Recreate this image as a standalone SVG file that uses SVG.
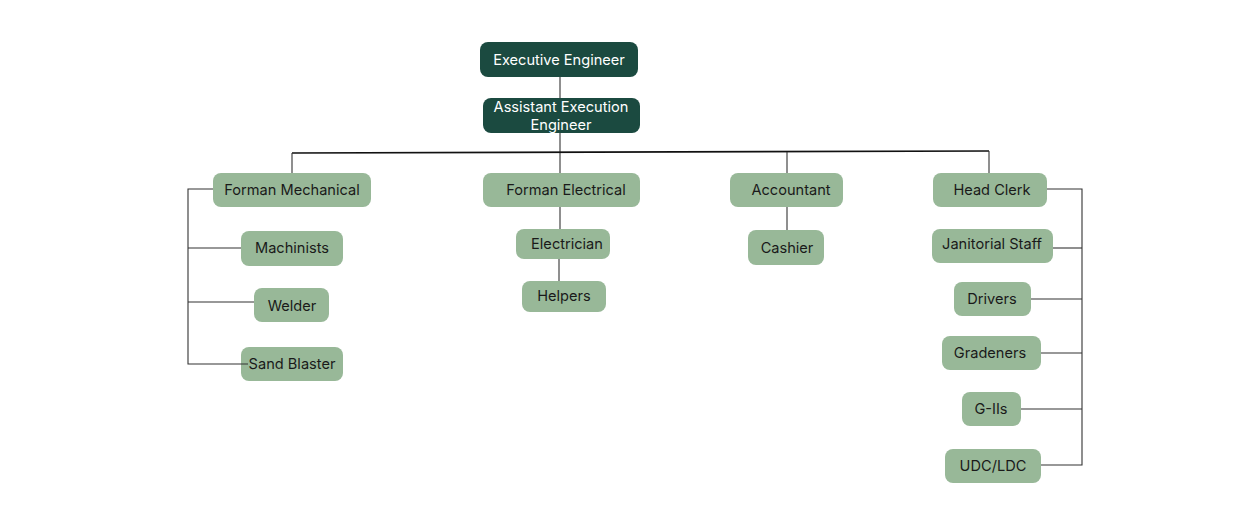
<svg xmlns="http://www.w3.org/2000/svg" width="1258" height="529" viewBox="0 0 1258 529">
<style>
.dark rect{fill:#1b4a40}
.light rect{fill:#98b898}
text{font-family:Inter,"Noto Sans","Liberation Sans",sans-serif;font-size:14.6px;text-anchor:middle;dominant-baseline:central}
.dark text{fill:#ffffff}
.light text{fill:#1a1a1a}
.c line,.c polyline{stroke:#333;stroke-width:1.1;fill:none}
.c .main{stroke:#111;stroke-width:1.6}
</style>
<rect width="1258" height="529" fill="#ffffff"/>
<g id="exec" class="dark"><rect x="480" y="42" width="158" height="35" rx="8"/><text x="559" y="60">Executive Engineer</text></g>
<g id="asst" class="dark"><rect x="483" y="98" width="157" height="35" rx="8"/><text x="561" y="107">Assistant Execution</text><text x="561" y="125">Engineer</text></g>
<g id="forman-mech" class="light"><rect x="213" y="173" width="158" height="34" rx="8"/><text x="292" y="190">Forman Mechanical</text></g>
<g id="forman-elec" class="light"><rect x="483" y="173" width="157" height="34" rx="8"/><text x="566" y="190">Forman Electrical</text></g>
<g id="accountant" class="light"><rect x="730" y="173" width="113" height="34" rx="8"/><text x="791" y="190">Accountant</text></g>
<g id="head-clerk" class="light"><rect x="933" y="173" width="114" height="34" rx="8"/><text x="992" y="190">Head Clerk</text></g>
<g id="machinists" class="light"><rect x="241" y="231" width="102" height="35" rx="8"/><text x="292" y="248">Machinists</text></g>
<g id="welder" class="light"><rect x="254" y="288" width="75" height="34" rx="8"/><text x="292" y="306">Welder</text></g>
<g id="sand-blaster" class="light"><rect x="241" y="347" width="102" height="34" rx="8"/><text x="292" y="364">Sand Blaster</text></g>
<g id="electrician" class="light"><rect x="516" y="229" width="94" height="30" rx="8"/><text x="567" y="244">Electrician</text></g>
<g id="helpers" class="light"><rect x="522" y="281" width="84" height="31" rx="8"/><text x="564" y="296">Helpers</text></g>
<g id="cashier" class="light"><rect x="748" y="230" width="76" height="35" rx="8"/><text x="787" y="248">Cashier</text></g>
<g id="janitorial" class="light"><rect x="932" y="229" width="121" height="34" rx="8"/><text x="992" y="244">Janitorial Staff</text></g>
<g id="drivers" class="light"><rect x="954" y="282" width="77" height="34" rx="8"/><text x="992" y="299">Drivers</text></g>
<g id="gradeners" class="light"><rect x="942" y="336" width="99" height="34" rx="8"/><text x="990" y="353">Gradeners</text></g>
<g id="g-iis" class="light"><rect x="962" y="392" width="59" height="34" rx="8"/><text x="991" y="409">G-IIs</text></g>
<g id="udc-ldc" class="light"><rect x="945" y="449" width="96" height="34" rx="8"/><text x="993" y="466">UDC/LDC</text></g>
<g class="c" id="connectors">
<line x1="560" y1="77" x2="560" y2="98"/>
<line x1="560" y1="133" x2="560" y2="173"/>
<line class="main" x1="292" y1="153" x2="989" y2="151"/>
<line x1="292" y1="153" x2="292" y2="173"/>
<line x1="787" y1="152" x2="787" y2="173"/>
<line x1="989" y1="151" x2="989" y2="173"/>
<polyline points="213,189 188,189 188,364 248,364"/>
<line x1="188" y1="248" x2="241" y2="248"/>
<line x1="188" y1="302" x2="254" y2="302"/>
<line x1="560" y1="207" x2="560" y2="229"/>
<line x1="559" y1="259" x2="559" y2="281"/>
<line x1="787" y1="207" x2="787" y2="230"/>
<polyline points="1047,189 1082,189 1082,465 1041,465"/>
<line x1="1053" y1="248" x2="1082" y2="248"/>
<line x1="1031" y1="299" x2="1082" y2="299"/>
<line x1="1041" y1="353" x2="1082" y2="353"/>
<line x1="1021" y1="409" x2="1082" y2="409"/>
</g>
</svg>
